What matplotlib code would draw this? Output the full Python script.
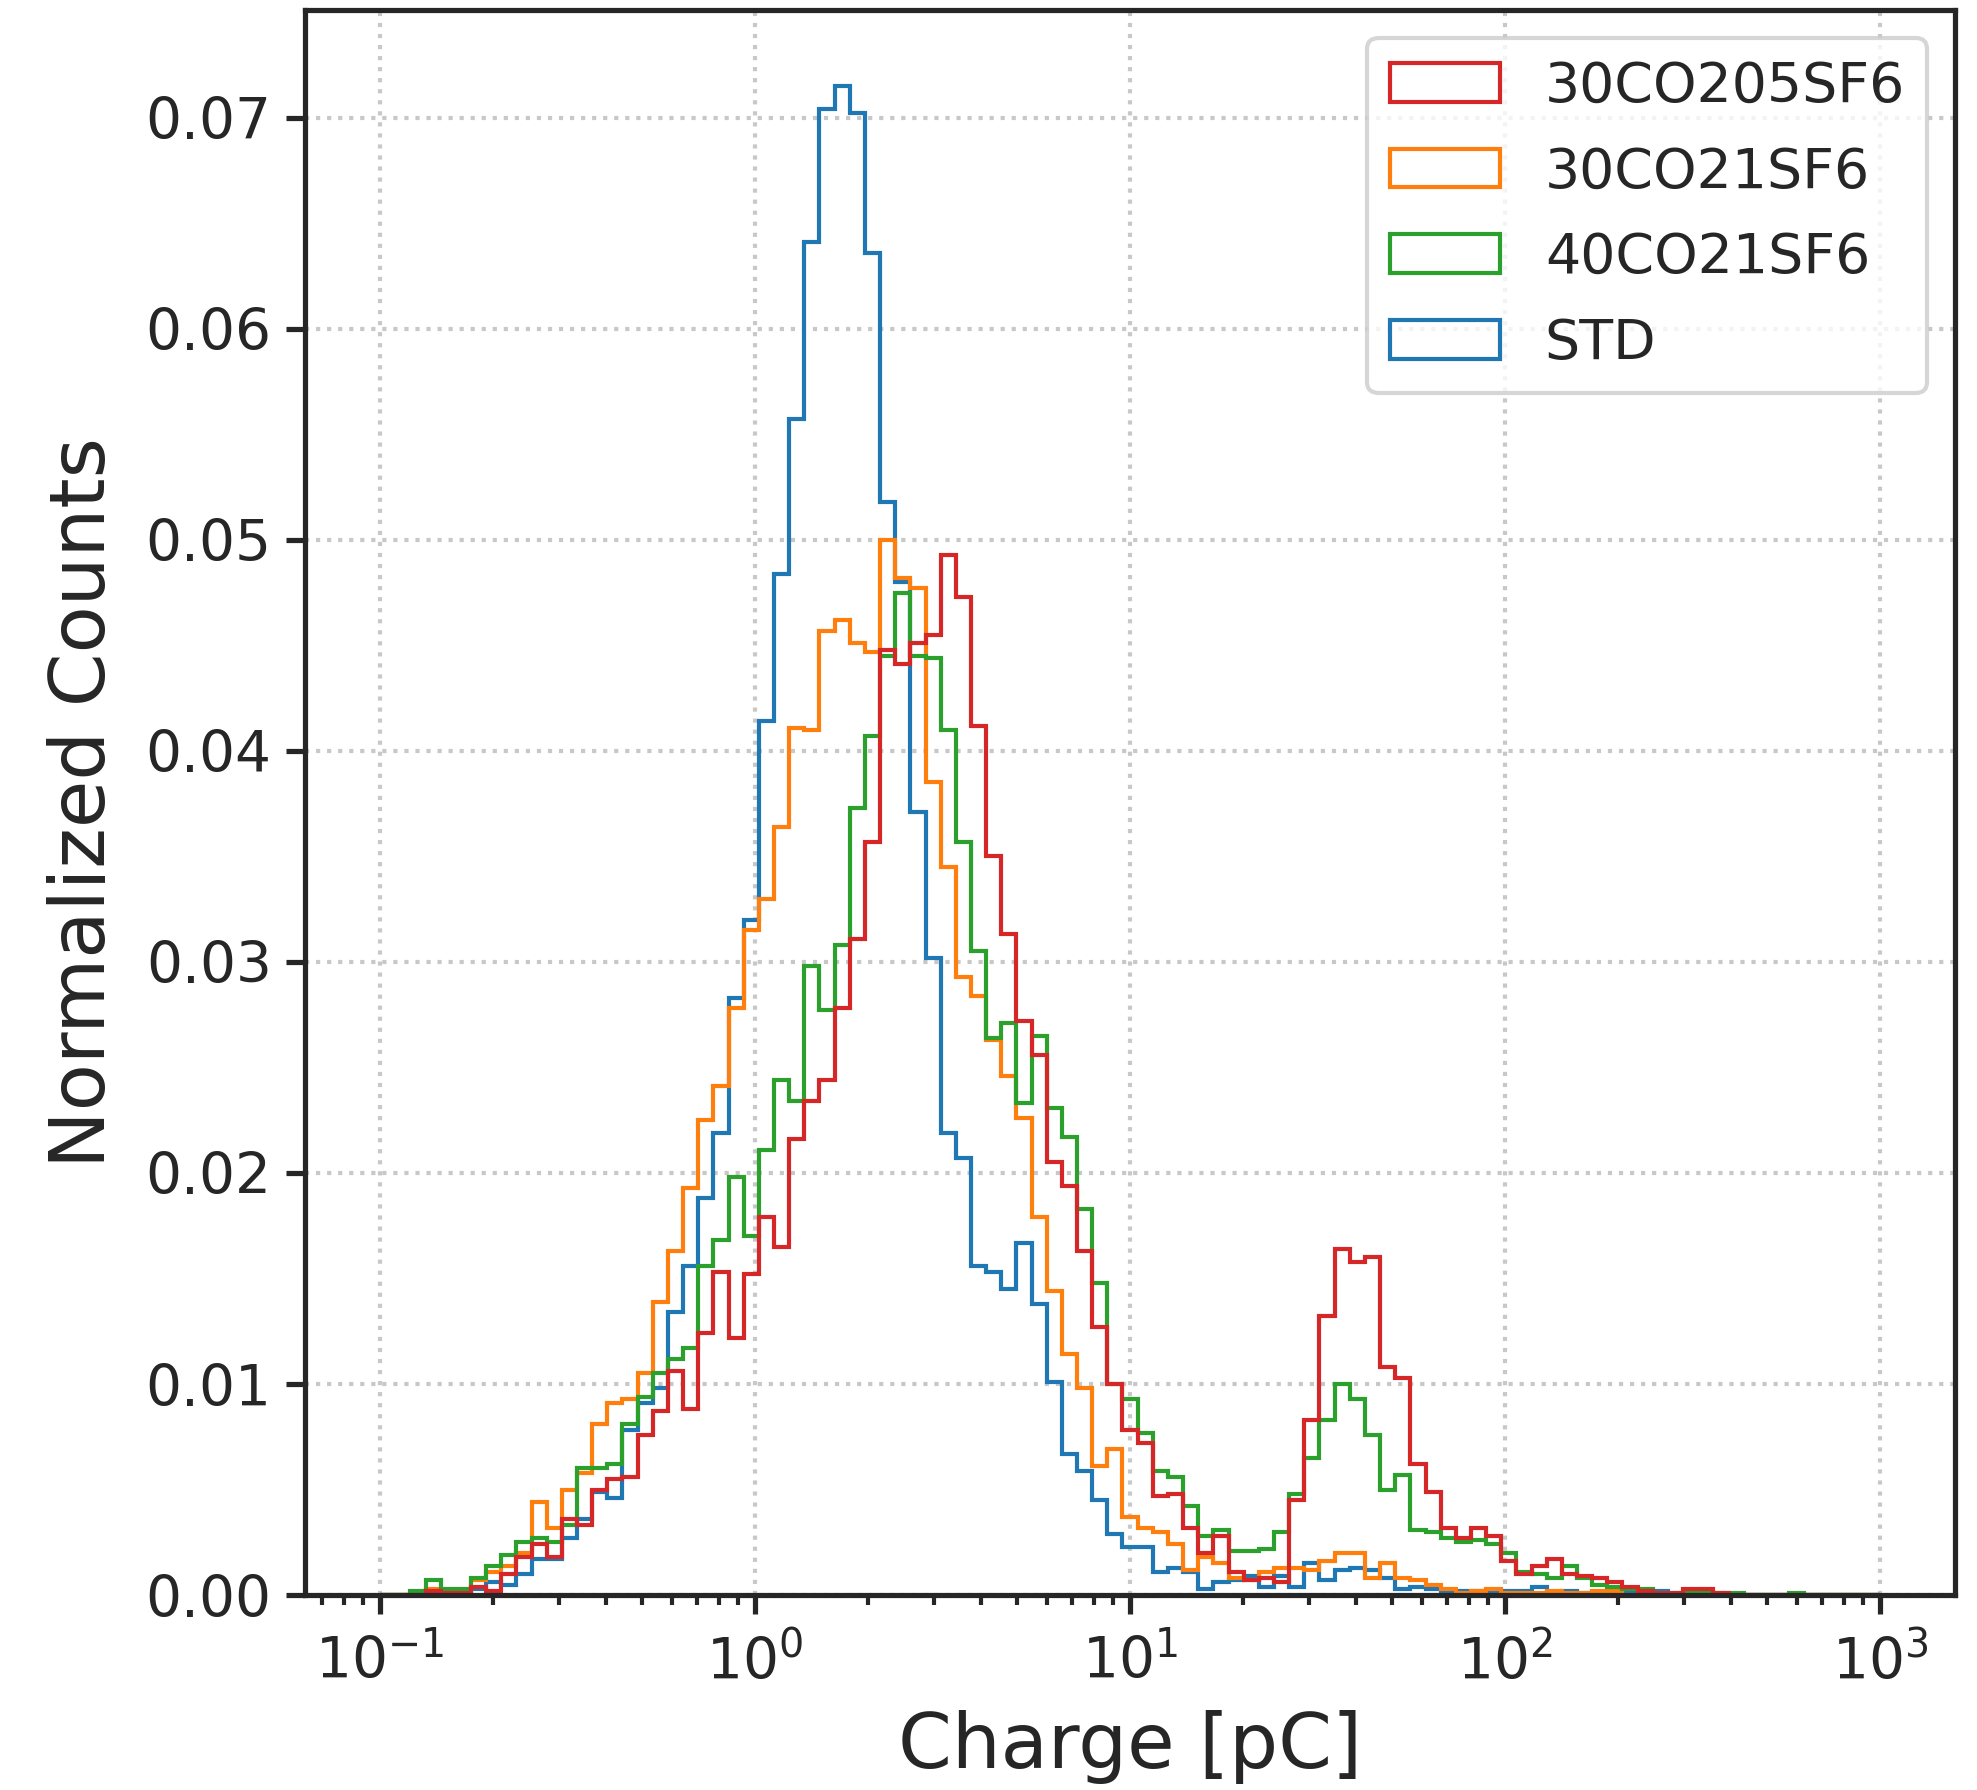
import numpy as np
import matplotlib
matplotlib.use("Agg")
import matplotlib.pyplot as plt

# Log-spaced charge bins (pC) and normalized counts per bin
edges = np.logspace(-1, 3, 100)
centers = np.sqrt(edges[:-1] * edges[1:])

std = [0, 0, 0, 0.0001, 0.0001, 0.0001, 0.0003, 0.0006, 0.0005, 0.0010,
       0.0017, 0.0017, 0.0027, 0.0036, 0.0049, 0.0046, 0.0078, 0.0091, 0.0098, 0.0134,
       0.0156, 0.0188, 0.0219, 0.0283, 0.0320, 0.0414, 0.0484, 0.0557, 0.0641, 0.0704,
       0.0715, 0.0702, 0.0636, 0.0518, 0.0480, 0.0371, 0.0302, 0.0219, 0.0207, 0.0156,
       0.0153, 0.0145, 0.0167, 0.0138, 0.0101, 0.0067, 0.0059, 0.0045, 0.0029, 0.0023,
       0.0023, 0.0011, 0.0013, 0.0011, 0.0003, 0.0006, 0.0007, 0.0009, 0.0004, 0.0009,
       0.0004, 0.0015, 0.0007, 0.0012, 0.0013, 0.0012, 0.0008, 0.0003, 0.0004, 0.0003,
       0.0002, 0.0002, 0.0002, 0.0002, 0.0002, 0.0002, 0.0004, 0.0001, 0.0002, 0.0001,
       0.0001, 0, 0.0001, 0, 0.0002, 0, 0, 0, 0, 0,
       0, 0, 0, 0, 0, 0, 0, 0, 0]

co2_30_21 = [0, 0, 0, 0.0003, 0.0002, 0.0002, 0.0007, 0.0011, 0.0014, 0.0020,
             0.0044, 0.0032, 0.0050, 0.0058, 0.0081, 0.0091, 0.0093, 0.0105, 0.0139, 0.0163,
             0.0193, 0.0225, 0.0241, 0.0278, 0.0315, 0.0330, 0.0364, 0.0411, 0.0410, 0.0457,
             0.0462, 0.0451, 0.0447, 0.0500, 0.0482, 0.0477, 0.0385, 0.0345, 0.0293, 0.0284,
             0.0263, 0.0246, 0.0226, 0.0179, 0.0144, 0.0114, 0.0098, 0.0061, 0.0069, 0.0037,
             0.0032, 0.0030, 0.0024, 0.0012, 0.0018, 0.0015, 0.0008, 0.0007, 0.0011, 0.0013,
             0.0013, 0.0012, 0.0016, 0.0020, 0.0020, 0.0008, 0.0015, 0.0008, 0.0007, 0.0005,
             0.0003, 0.0001, 0.0002, 0.0003, 0.0001, 0.0001, 0.0001, 0.0002, 0.0001, 0.0001,
             0.0002, 0.0002, 0, 0, 0, 0, 0, 0, 0, 0,
             0, 0, 0, 0, 0, 0, 0, 0, 0]

co2_40_21 = [0, 0, 0.0002, 0.0007, 0.0003, 0.0003, 0.0008, 0.0014, 0.0019, 0.0025,
             0.0027, 0.0025, 0.0033, 0.0060, 0.0060, 0.0062, 0.0081, 0.0094, 0.0105, 0.0112,
             0.0117, 0.0156, 0.0168, 0.0198, 0.0170, 0.0211, 0.0244, 0.0234, 0.0298, 0.0277,
             0.0308, 0.0373, 0.0407, 0.0445, 0.0475, 0.0445, 0.0444, 0.0410, 0.0357, 0.0305,
             0.0264, 0.0271, 0.0233, 0.0265, 0.0231, 0.0217, 0.0183, 0.0148, 0.0100, 0.0093,
             0.0077, 0.0059, 0.0056, 0.0042, 0.0028, 0.0031, 0.0021, 0.0021, 0.0022, 0.0030,
             0.0048, 0.0065, 0.0083, 0.0100, 0.0093, 0.0076, 0.0050, 0.0057, 0.0031, 0.0030,
             0.0027, 0.0025, 0.0026, 0.0024, 0.0020, 0.0011, 0.0010, 0.0008, 0.0014, 0.0008,
             0.0005, 0.0004, 0.0003, 0.0003, 0.0001, 0.0001, 0.0001, 0.0001, 0.0001, 0.0001,
             0, 0, 0, 0.0001, 0, 0, 0, 0, 0]

co2_30_205 = [0, 0, 0, 0.0002, 0.0001, 0.0001, 0.0004, 0.0002, 0.0010, 0.0018,
              0.0024, 0.0018, 0.0036, 0.0033, 0.0050, 0.0055, 0.0056, 0.0076, 0.0087, 0.0106,
              0.0088, 0.0124, 0.0153, 0.0122, 0.0152, 0.0179, 0.0165, 0.0216, 0.0234, 0.0244,
              0.0278, 0.0311, 0.0357, 0.0448, 0.0441, 0.0451, 0.0455, 0.0493, 0.0473, 0.0412,
              0.0350, 0.0313, 0.0272, 0.0256, 0.0205, 0.0194, 0.0163, 0.0127, 0.0100, 0.0078,
              0.0072, 0.0047, 0.0048, 0.0032, 0.0020, 0.0028, 0.0011, 0.0007, 0.0008, 0.0006,
              0.0045, 0.0083, 0.0132, 0.0164, 0.0158, 0.0160, 0.0108, 0.0103, 0.0062, 0.0049,
              0.0032, 0.0027, 0.0032, 0.0028, 0.0016, 0.0010, 0.0014, 0.0017, 0.0010, 0.0009,
              0.0008, 0.0006, 0.0004, 0.0002, 0.0001, 0.0001, 0.0003, 0.0003, 0.0001, 0,
              0, 0, 0, 0, 0, 0, 0, 0, 0]

labels = ['STD', '30CO21SF6', '40CO21SF6', '30CO205SF6']
colors = ['tab:blue', 'tab:orange', 'tab:green', 'tab:red']
legend_order = ['30CO205SF6', '30CO21SF6', '40CO21SF6', 'STD']
dark = '#262626'

fig, ax = plt.subplots(figsize=(1977 / 300, 1790 / 300), dpi=300)
fig.subplots_adjust(left=0.1543, right=0.9889, top=0.9944, bottom=0.1089)

for vals, lab, col in zip([std, co2_30_21, co2_40_21, co2_30_205], labels, colors):
    ax.hist(centers, bins=edges, weights=vals, histtype='step', color=col, label=lab, lw=1.0)

ax.set_xscale('log')
ax.set_xlim(10 ** -1.2, 10 ** 3.2)
ax.set_ylim(0, 0.0751)
ax.set_yticks(np.arange(0, 0.0701, 0.01))

ax.grid(True, which='major', linestyle=':', color='#c8c8c8', lw=1.0)
ax.set_axisbelow(True)

for sp in ax.spines.values():
    sp.set_color(dark)
    sp.set_linewidth(1.25)
ax.tick_params(which='major', direction='out', length=4.5, width=1.25, color=dark,
               labelcolor=dark, labelsize=13.6)
ax.tick_params(axis='x', which='major', pad=5)
ax.tick_params(which='minor', direction='out', length=2.5, width=1.0, color=dark)
ax.tick_params(axis='y', which='minor', left=False)

ax.set_xlabel('Charge [pC]', fontsize=18.5, color=dark, labelpad=4.5)
ax.set_ylabel('Normalized Counts', fontsize=18.5, color=dark, labelpad=6)

handles, labs = ax.get_legend_handles_labels()
lookup = dict(zip(labs, handles))
leg = ax.legend([lookup[l] for l in legend_order], legend_order, loc='upper right',
                fontsize=13.3, labelspacing=0.57)
leg.get_frame().set_edgecolor('#cccccc')
for t in leg.get_texts():
    t.set_color(dark)

fig.savefig('out.png', dpi=300)
